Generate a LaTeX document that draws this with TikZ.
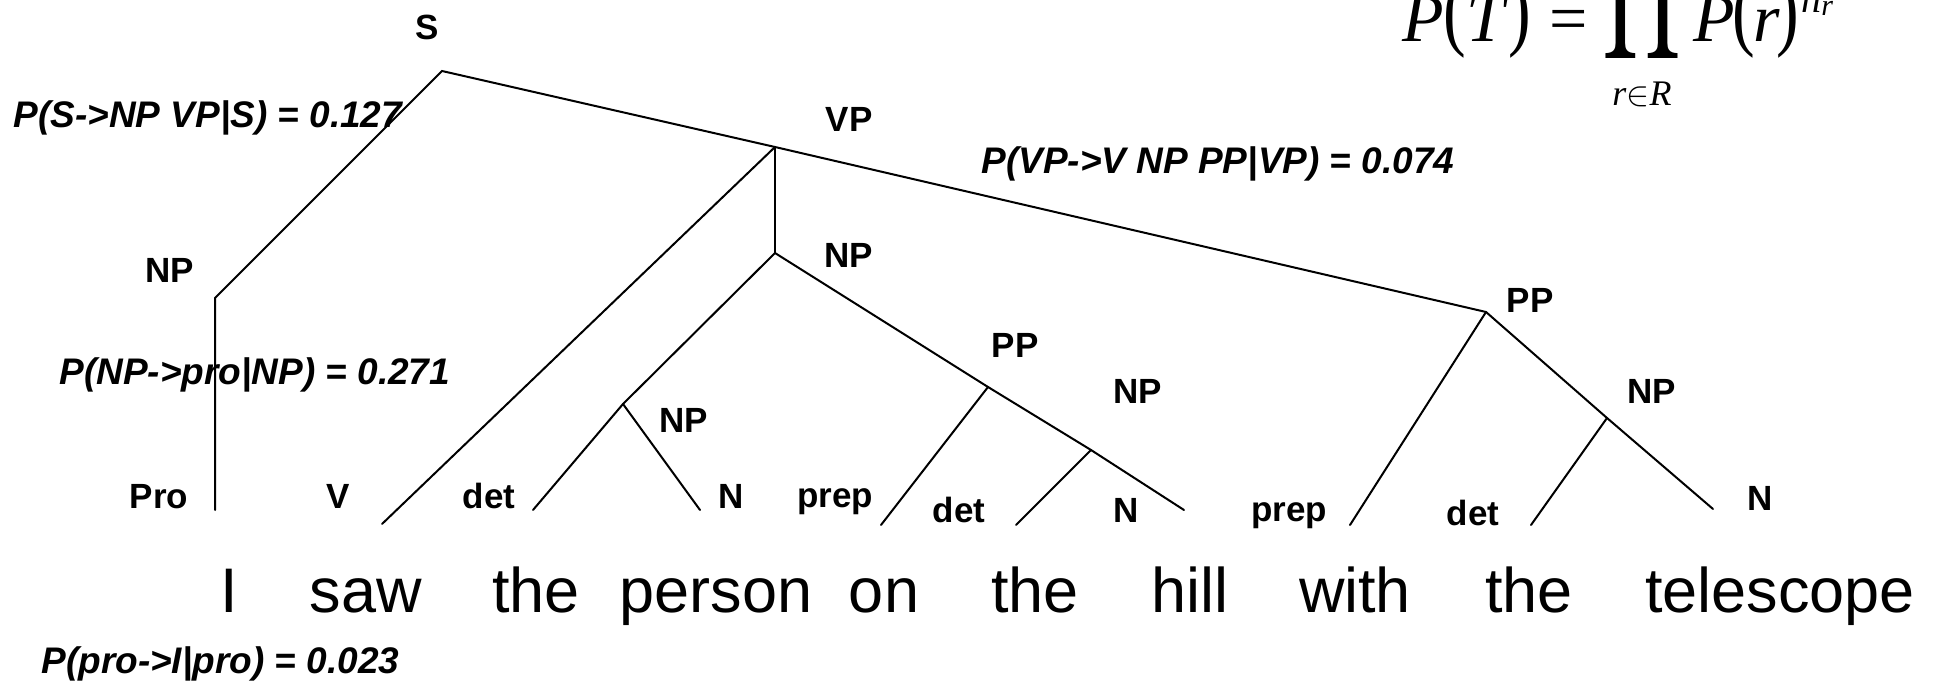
\documentclass[tikz,border=0pt]{standalone}
\usepackage{fontspec}
\setmainfont{Liberation Sans}
\newfontfamily\fml{Liberation Serif}
\newcommand\bigpar[1]{\raisebox{0.04em}{\scalebox{1}[1.3]{#1}}}
\tikzset{
  lbl/.style={font=\bfseries\fontsize{17.5}{20}\selectfont, inner sep=0pt, anchor=base},
  prob/.style={font=\bfseries\itshape\fontsize{18.5}{22}\selectfont, inner sep=0pt, anchor=base west},
  word/.style={font=\fontsize{31.5}{36}\selectfont, inner sep=0pt, anchor=base},
  edge/.style={line width=1pt, line cap=round},
  fm/.style={font=\fml\fontsize{34}{40}\selectfont, inner sep=0pt}
}
\begin{document}
\begin{tikzpicture}[x=0.5pt, y=-0.5pt]
\useasboundingbox (0,0) rectangle (1936,683);
% tree points
\coordinate (s) at (442,71);
\coordinate (np1) at (215,298);
\coordinate (pro) at (215,510);
\coordinate (vp) at (775,147);
\coordinate (v) at (382,524);
\coordinate (np2) at (775,253);
\coordinate (np3) at (623,404);
\coordinate (det1) at (533,510);
\coordinate (n1) at (700,510);
\coordinate (pp1) at (988,387);
\coordinate (prep1) at (881,525);
\coordinate (np4) at (1091,450);
\coordinate (det2) at (1016,525);
\coordinate (n2) at (1184,510);
\coordinate (pp2) at (1486,312);
\coordinate (prep2) at (1350,525);
\coordinate (np5) at (1607,418);
\coordinate (det3) at (1531,525);
\coordinate (n3) at (1713,509);
% edges
\draw[edge] (pro) -- (np1) -- (s) -- (vp) -- (pp2);
\draw[edge] (vp) -- (v);
\draw[edge] (vp) -- (np2);
\draw[edge] (np2) -- (np3);
\draw[edge] (np3) -- (det1);
\draw[edge] (np3) -- (n1);
\draw[edge] (np2) -- (pp1);
\draw[edge] (pp1) -- (prep1);
\draw[edge] (pp1) -- (np4);
\draw[edge] (np4) -- (det2);
\draw[edge] (np4) -- (n2);
\draw[edge] (pp2) -- (prep2);
\draw[edge] (pp2) -- (np5);
\draw[edge] (np5) -- (det3);
\draw[edge] (np5) -- (n3);
% category labels
\node[lbl] (lS) at (427,40) {S};
\node[lbl] (lNP1) at (170,283) {NP};
\node[lbl] (lVP) at (849,132) {VP};
\node[lbl] (lNP2) at (849,268) {NP};
\node[lbl] (lNP3) at (684,433) {NP};
\node[lbl] (lPP1) at (1015,358) {PP};
\node[lbl] (lNP4) at (1138,404) {NP};
\node[lbl] (lPP2) at (1530,313) {PP};
\node[lbl] (lNP5) at (1652,404) {NP};
\node[lbl] (lPro) at (159,509) {Pro};
\node[lbl] (lV) at (338,509) {V};
\node[lbl] (ldet1) at (489,509) {det};
\node[lbl] (lN1) at (731,509) {N};
\node[lbl] (lprep1) at (835,508) {prep};
\node[lbl] (ldet2) at (959,522) {det};
\node[lbl] (lN2) at (1126,522) {N};
\node[lbl] (lprep2) at (1289,521) {prep};
\node[lbl] (ldet3) at (1473,525) {det};
\node[lbl] (lN3) at (1760,510) {N};
% probabilities
\node[prob] (p1) at (13,128) {P(S->NP VP|S) = 0.127};
\node[prob] (p2) at (981,174) {P(VP->V NP PP|VP) = 0.074};
\node[prob] (p3) at (59,385) {P(NP->pro|NP) = 0.271};
\node[prob] (p4) at (41,673) {P(pro->I|pro) = 0.023};
% words
\node[word] (w1) at (229,612) {I};
\node[word] (w2) at (366,612) {saw};
\node[word] (w3) at (536,612) {the};
\node[word] (w4) at (716,612) {person};
\node[word] (w5) at (884,612) {on};
\node[word] (w6) at (1035,612) {the};
\node[word] (w7) at (1190,612) {hill};
\node[word] (w8) at (1355,612) {with};
\node[word] (w9) at (1529,612) {the};
\node[word] (w10) at (1780,612) {telescope};
% formula
\node[fm, anchor=base west] (fP) at (1402,42) {\textit{P}\bigpar{(}\textit{T}\bigpar{)}};
\node[fm, anchor=base] (feq) at (1569,42) {=};
\node[inner sep=0pt, anchor=south] (fprod) at (1642,68) {\resizebox{39.5pt}{48pt}{$\displaystyle\prod$}};
\node[fm, anchor=base west] (fPr) at (1693,42) {\textit{P}\kern-0.03em\bigpar{(}\kern-0.03em\textit{r}\kern-0.06em\bigpar{)}};
\node[font=\fml\itshape\fontsize{20}{24}\selectfont, inner sep=0pt, anchor=base west] (fn) at (1801,13) {n};
\node[font=\fml\itshape\fontsize{15}{18}\selectfont, inner sep=0pt, anchor=base west] (fr) at (1821,16) {r};
\node[font=\fml\fontsize{18}{22}\selectfont, inner sep=0pt, anchor=base] (fsub) at (1642,106) {\textit{r}$\in$\textit{R}};
\end{tikzpicture}
\end{document}
